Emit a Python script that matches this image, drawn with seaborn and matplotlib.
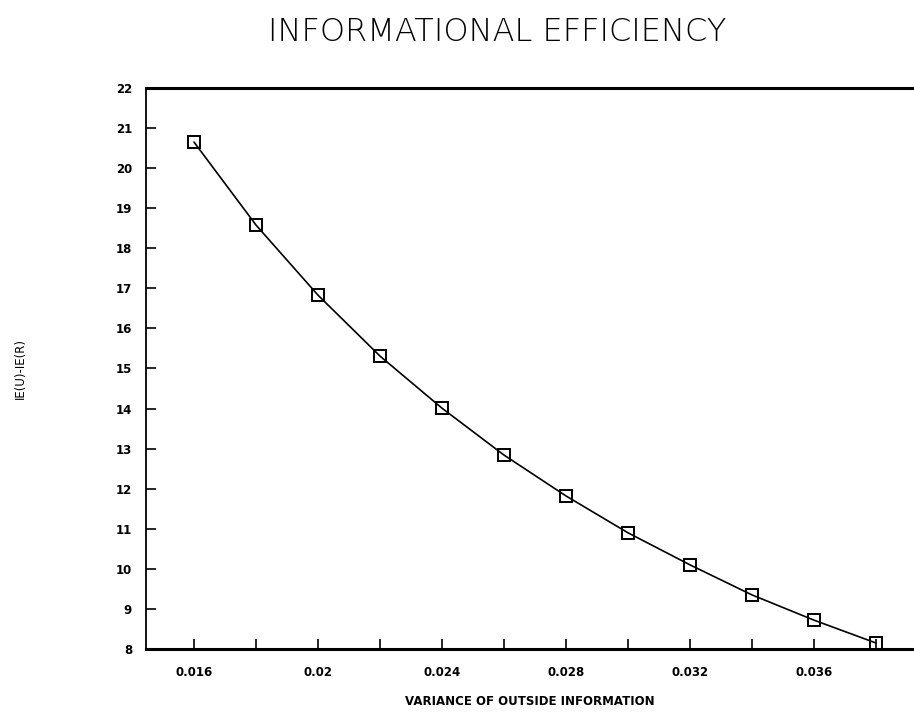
import matplotlib
matplotlib.use("Agg")
import matplotlib.pyplot as plt
import seaborn as sns
import pandas as pd
from matplotlib.ticker import MultipleLocator

variance = [0.016, 0.018, 0.020, 0.022, 0.024, 0.026, 0.028, 0.030, 0.032, 0.034, 0.036, 0.038]
ie_diff = [20.65, 18.58, 16.83, 15.31, 14.01, 12.84, 11.82, 10.90, 10.10, 9.35, 8.72, 8.15]
x_ticks = [0.016, 0.02, 0.024, 0.028, 0.032, 0.036]
x_tick_labels = ["0.016", "0.02", "0.024", "0.028", "0.032", "0.036"]
y_ticks = list(range(8, 23))

sns.set_theme(style="ticks")
plt.rcParams['font.family'] = ['DejaVu Sans']
plt.rcParams['text.color'] = 'black'
plt.rcParams['axes.labelcolor'] = 'black'
plt.rcParams['xtick.color'] = 'black'
plt.rcParams['ytick.color'] = 'black'

df = pd.DataFrame({"x": variance, "y": ie_diff})

fig = plt.figure(figsize=(9.14, 7.13), dpi=100)
ax = fig.add_axes([0.1597, 0.0898, 0.8403, 0.7868])

sns.lineplot(data=df, x="x", y="y", ax=ax, color="black", linewidth=1.2,
             marker="s", markersize=8, markerfacecolor="none",
             markeredgecolor="black", markeredgewidth=1.4)

ax.set_xlim(0.01445, 0.03923)
ax.set_ylim(8, 22)
ax.set_xticks(x_ticks)
ax.set_xticklabels(x_tick_labels, fontsize=8.5, fontweight="bold")
ax.xaxis.set_minor_locator(MultipleLocator(0.002))
ax.set_yticks(y_ticks)
ax.set_yticklabels([str(v) for v in y_ticks], fontsize=8.5, fontweight="bold")
ax.tick_params(axis="both", which="both", direction="in", length=7, width=1.2,
               color="black", labelcolor="black")
ax.tick_params(axis="x", pad=12)
ax.tick_params(axis="y", pad=10)

ax.spines["left"].set_linewidth(1.3)
for s in ["top", "bottom"]:
    ax.spines[s].set_linewidth(2.2)
ax.spines["right"].set_visible(False)
for s in ax.spines.values():
    s.set_color("black")

ax.set_xlabel("VARIANCE OF OUTSIDE INFORMATION", fontsize=8.5, fontweight="bold",
              labelpad=12, color="black")
ax.set_ylabel("IE(U)-IE(R)", fontsize=8.5, labelpad=64, color="black")

fig.text(0.544, 0.955, "INFORMATIONAL EFFICIENCY", ha="center", va="center",
         fontsize=23, fontweight="light", color="black")

fig.savefig("out.png", dpi=100, facecolor="white")
